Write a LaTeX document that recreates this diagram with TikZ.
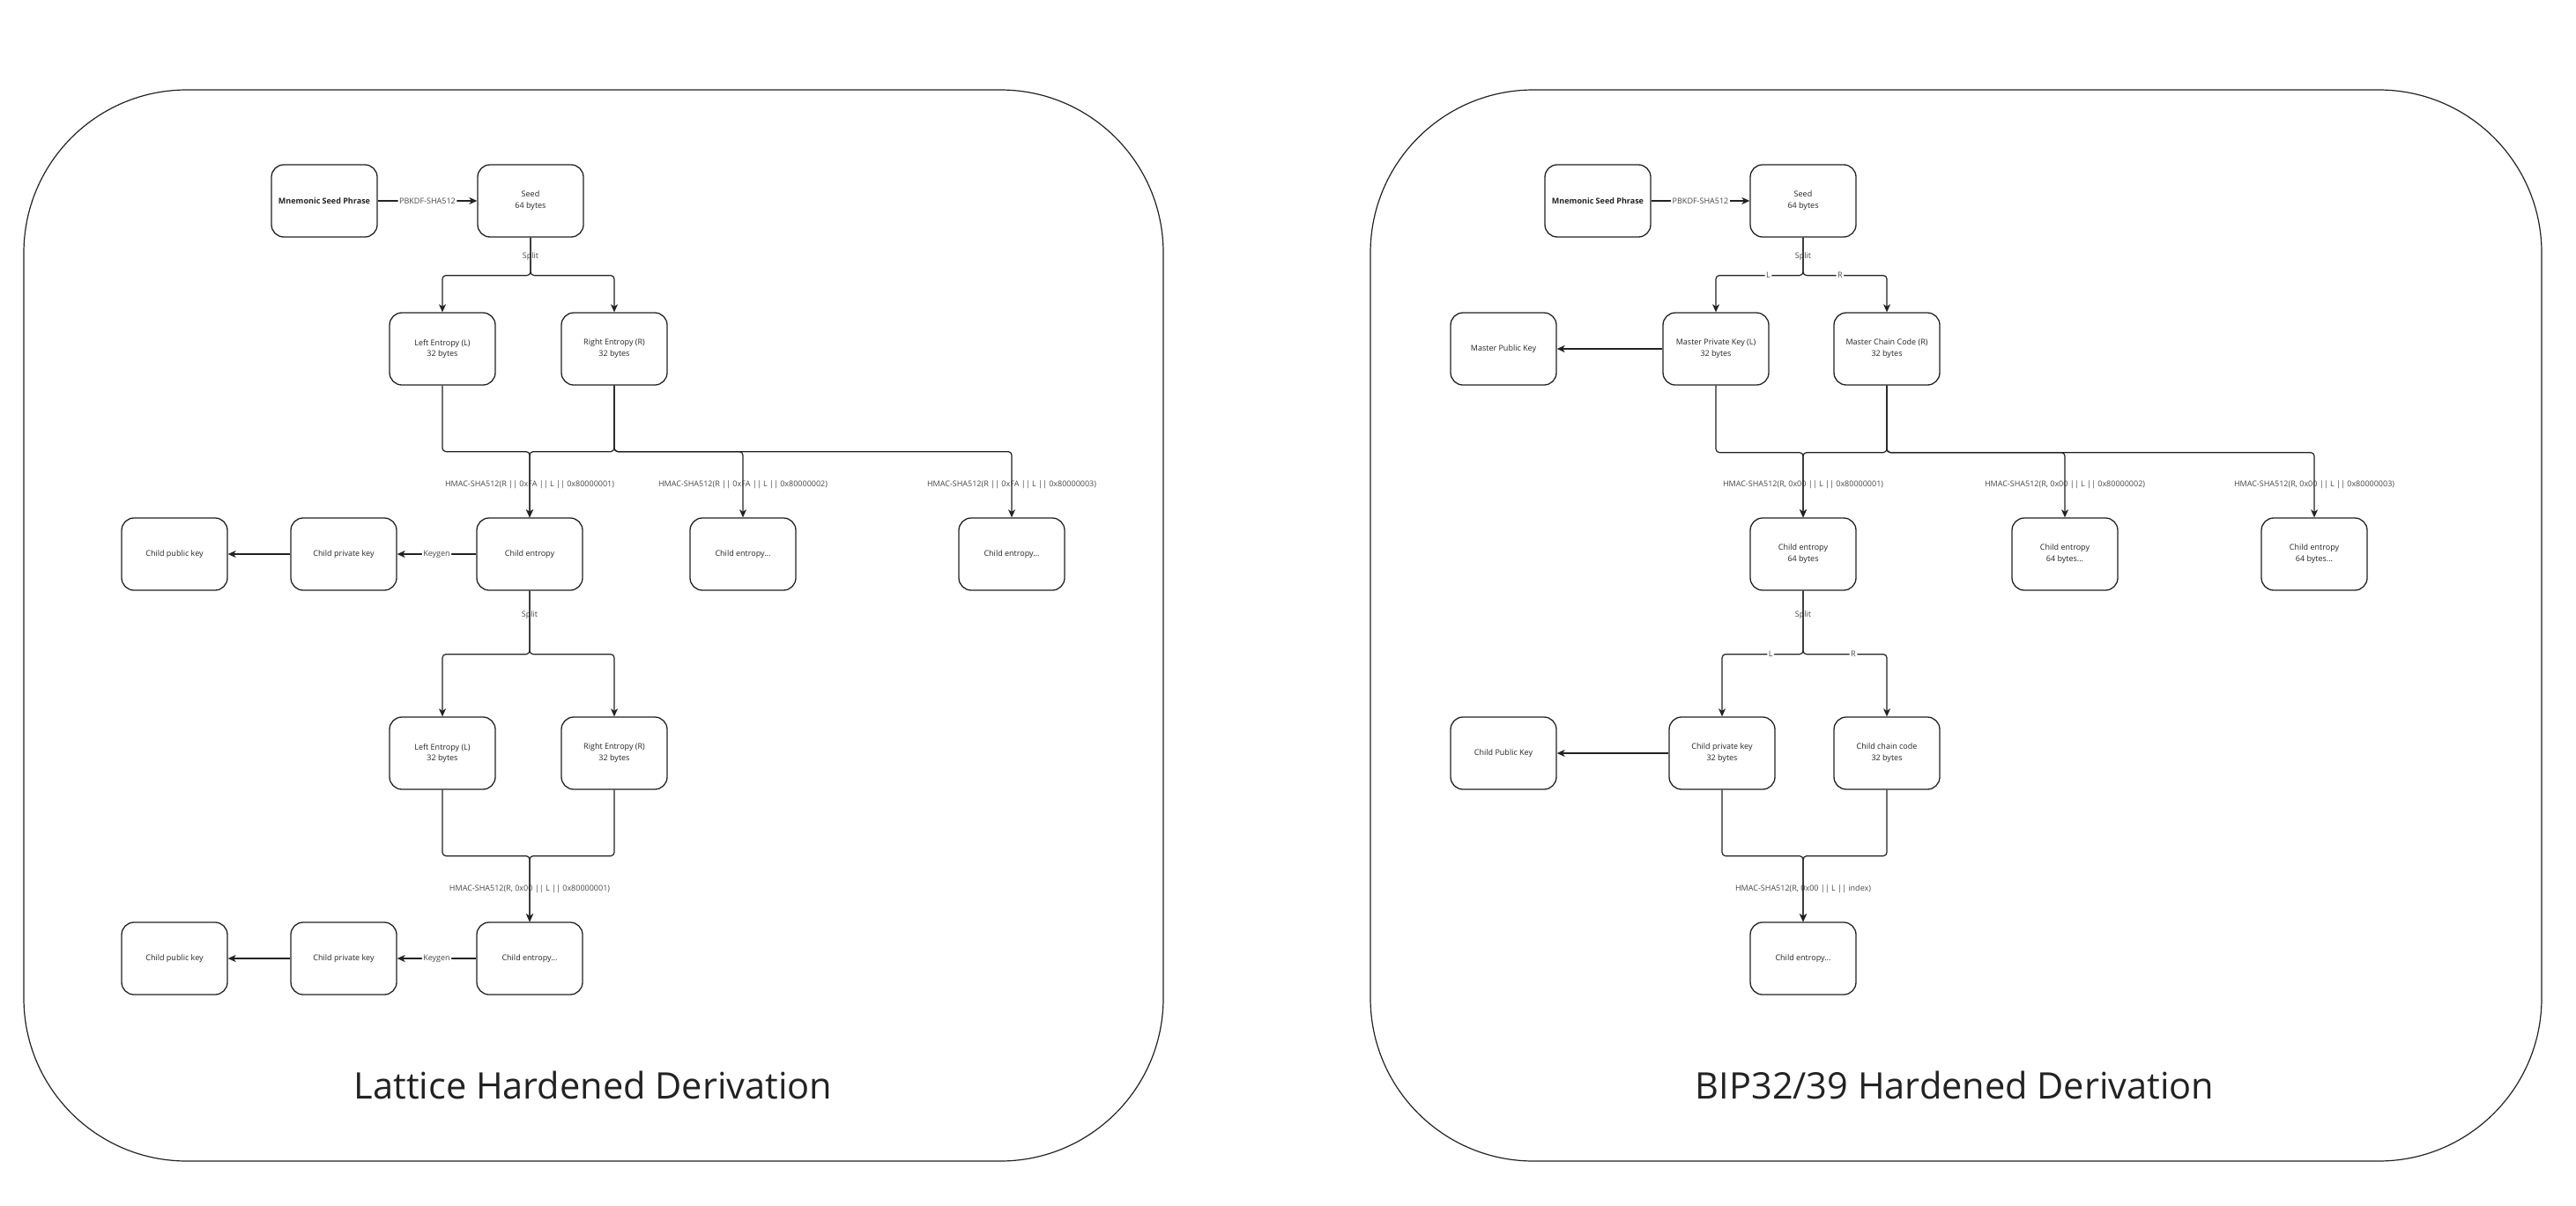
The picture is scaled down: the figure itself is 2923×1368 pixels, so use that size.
\documentclass[tikz,border=0pt]{standalone}
\usepackage{fontspec}
\setmainfont{Open Sans}
\usepackage{tikz}
\usetikzlibrary{arrows.meta, positioning, calc}
\definecolor{inkgray}{RGB}{34, 34, 34}
\definecolor{labelgray}{RGB}{70, 70, 70}
\tikzset{
  keybox/.style={draw=inkgray, rounded corners=14pt, line width=1.3pt, minimum width=120pt, minimum height=82pt, inner sep=2pt, align=center, text=inkgray, font=\fontsize{9}{12.7}\selectfont},
  panel/.style={draw=inkgray, rounded corners=185pt, line width=1.2pt},
  flow/.style={draw=inkgray, line width=1.2pt, rounded corners=4pt, -{Stealth[length=9pt, width=8pt, inset=2.5pt]}},
  edgelbl/.style={fill=white, inner sep=1.5pt, text=labelgray, font=\fontsize{9}{11}\selectfont},
  vertlbl/.style={inner sep=1pt, text=labelgray, font=\fontsize{9}{11}\selectfont},
  heading/.style={text=inkgray, font=\fontsize{41.5}{50}\selectfont}
}

\begin{document}
\begin{tikzpicture}[x=1pt, y=-1pt]
  \useasboundingbox (0,0) rectangle (2923,1368);

  % Panels
  \node[panel, minimum width=1293pt, minimum height=1216pt] (latpanel) at (673.5,710) {};
  \node[panel, minimum width=1329pt, minimum height=1216pt] (bippanel) at (2219.5,710) {};
  \node[heading] (lattitle) at (673,1232) {Lattice Hardened Derivation};
  \node[heading] (biptitle) at (2218,1232) {BIP32/39 Hardened Derivation};

  % Lattice side
  \node[keybox] (mnem) at (368,228) {\textbf{Mnemonic Seed Phrase}};
  \node[keybox] (seed) at (602,228) {Seed\\64 bytes};
  \node[keybox] (lent) at (502,396) {Left Entropy (L)\\32 bytes};
  \node[keybox] (rent) at (697,396) {Right Entropy (R)\\32 bytes};
  \node[keybox] (cent) at (601,629) {Child entropy};
  \node[keybox] (centtwo) at (843,629) {Child entropy...};
  \node[keybox] (centthree) at (1148,629) {Child entropy...};
  \node[keybox] (cpriv) at (390,629) {Child private key};
  \node[keybox] (cpub) at (198,629) {Child public key};
  \node[keybox] (lentb) at (502,855) {Left Entropy (L)\\32 bytes};
  \node[keybox] (rentb) at (697,855) {Right Entropy (R)\\32 bytes};
  \node[keybox] (centb) at (601,1088) {Child entropy...};
  \node[keybox] (cprivb) at (390,1088) {Child private key};
  \node[keybox] (cpubb) at (198,1088) {Child public key};

  \draw[flow] (mnem) -- node[edgelbl] {PBKDF-SHA512} (seed);
  \draw[flow] (seed.south) -- node[vertlbl] {Split} ++(0,43) -| (lent.north);
  \draw[flow] (seed.south) -- ++(0,43) -| (rent.north);
  \draw[flow] (lent.south) -- ++(0,75) -| node[vertlbl, pos=.75] {HMAC-SHA512(R || 0xFA || L || 0x80000001)} (cent.north);
  \draw[flow] (rent.south) -- ++(0,75) -| (cent.north);
  \draw[flow] (rent.south) -- ++(0,75) -| node[vertlbl, pos=.75] {HMAC-SHA512(R || 0xFA || L || 0x80000002)} (centtwo.north);
  \draw[flow] (rent.south) -- ++(0,75) -| node[vertlbl, pos=.75] {HMAC-SHA512(R || 0xFA || L || 0x80000003)} (centthree.north);
  \draw[flow] (cent) -- node[edgelbl] {Keygen} (cpriv);
  \draw[flow] (cpriv) -- (cpub);
  \draw[flow] (cent.south) -- node[vertlbl, pos=.38] {Split} ++(0,72) -| (lentb.north);
  \draw[flow] (cent.south) -- ++(0,72) -| (rentb.north);
  \draw[flow] (lentb.south) -- ++(0,75) -| node[vertlbl, pos=.75] {HMAC-SHA512(R, 0x00 || L || 0x80000001)} (centb.north);
  \draw[flow] (rentb.south) -- ++(0,75) -| (centb.north);
  \draw[flow] (centb) -- node[edgelbl] {Keygen} (cprivb);
  \draw[flow] (cprivb) -- (cpubb);

  % BIP32/39 side
  \node[keybox] (bmnem) at (1813,228) {\textbf{Mnemonic Seed Phrase}};
  \node[keybox] (bseed) at (2046,228) {Seed\\64 bytes};
  \node[keybox] (mpub) at (1706,396) {Master Public Key};
  \node[keybox] (mpriv) at (1947,396) {Master Private Key (L)\\32 bytes};
  \node[keybox] (mchain) at (2141,396) {Master Chain Code (R)\\32 bytes};
  \node[keybox] (bcent) at (2046,629) {Child entropy\\64 bytes};
  \node[keybox] (bcenttwo) at (2343,629) {Child entropy\\64 bytes...};
  \node[keybox] (bcentthree) at (2626,629) {Child entropy\\64 bytes...};
  \node[keybox] (bcpub) at (1706,855) {Child Public Key};
  \node[keybox] (bcpriv) at (1954,855) {Child private key\\32 bytes};
  \node[keybox] (bchain) at (2141,855) {Child chain code\\32 bytes};
  \node[keybox] (bcentb) at (2046,1088) {Child entropy...};

  \draw[flow] (bmnem) -- node[edgelbl] {PBKDF-SHA512} (bseed);
  \draw[flow] (bseed.south) -- node[vertlbl] {Split} ++(0,43) -| node[edgelbl, pos=.2] {L} (mpriv.north);
  \draw[flow] (bseed.south) -- ++(0,43) -| node[edgelbl, pos=.22] {R} (mchain.north);
  \draw[flow] (mpriv) -- (mpub);
  \draw[flow] (mpriv.south) -- ++(0,76) -| node[vertlbl, pos=.75] {HMAC-SHA512(R, 0x00 || L || 0x80000001)} (bcent.north);
  \draw[flow] (mchain.south) -- ++(0,76) -| (bcent.north);
  \draw[flow] (mchain.south) -- ++(0,76) -| node[vertlbl, pos=.75] {HMAC-SHA512(R, 0x00 || L || 0x80000002)} (bcenttwo.north);
  \draw[flow] (mchain.south) -- ++(0,76) -| node[vertlbl, pos=.75] {HMAC-SHA512(R, 0x00 || L || 0x80000003)} (bcentthree.north);
  \draw[flow] (bcent.south) -- node[vertlbl, pos=.38] {Split} ++(0,72) -| node[edgelbl, pos=.2] {L} (bcpriv.north);
  \draw[flow] (bcent.south) -- ++(0,72) -| node[edgelbl, pos=.3] {R} (bchain.north);
  \draw[flow] (bcpriv) -- (bcpub);
  \draw[flow] (bcpriv.south) -- ++(0,75) -| node[vertlbl, pos=.75] {HMAC-SHA512(R, 0x00 || L || index)} (bcentb.north);
  \draw[flow] (bchain.south) -- ++(0,75) -| (bcentb.north);
\end{tikzpicture}
\end{document}
